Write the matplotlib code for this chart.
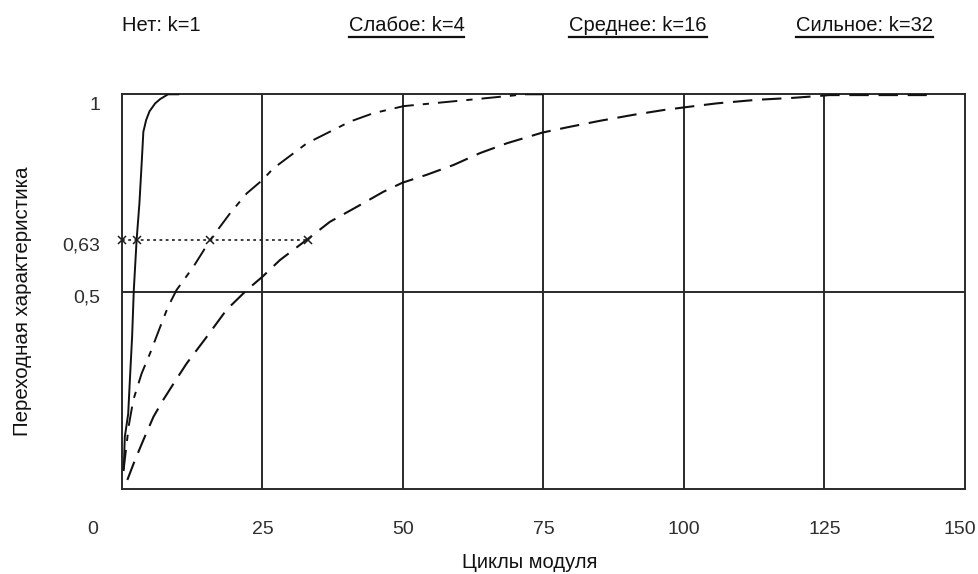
import matplotlib
matplotlib.use("Agg")
import matplotlib.pyplot as plt
from matplotlib.transforms import ScaledTranslation
from matplotlib.lines import Line2D

plt.rcParams['font.family'] = ['Liberation Sans', 'DejaVu Sans']
plt.rcParams['lines.scale_dashes'] = False

# ---- data ----
legend_labels = ["Нет: k=1", "Слабое: k=4", "Среднее: k=16", "Сильное: k=32"]
legend_underlined = [False, True, True, True]

x_ticks = [0, 25, 50, 75, 100, 125, 150]
x_tick_labels = ["0", "25", "50", "75", "100", "125", "150"]
y_ticks = [1.0, 0.63, 0.5]
y_tick_labels = ["1", "0,63", "0,5"]
grid_x = [25, 50, 75, 100, 125]
grid_y = [0.5]

# k=4 (solid)
k4_x = [0.3, 0.5, 1.1, 1.4, 1.8, 2.1, 2.6, 3.1, 3.5, 3.8, 4.3, 4.9, 5.9, 6.8, 8.2, 10.0]
k4_y = [0.048, 0.132, 0.19, 0.276, 0.386, 0.504, 0.631, 0.724, 0.825, 0.905, 0.935, 0.957,
        0.977, 0.988, 1.0, 1.0]
# k=16 (dash-dot)
k16_x = [0.3, 1.2, 2.0, 3.5, 5.0, 6.8, 8.2, 9.7, 12.7, 15.7, 19.2, 22.2, 25.0, 26.9, 32.9,
         36.4, 40.6, 44.7, 50.1, 56.6, 62.5, 69.6, 71.4, 75.0]
k16_y = [0.05, 0.16, 0.225, 0.293, 0.344, 0.411, 0.462, 0.504, 0.563, 0.631, 0.698, 0.749,
         0.783, 0.812, 0.876, 0.901, 0.931, 0.952, 0.970, 0.979, 0.987, 0.997, 1.0, 1.0]
# k=32 (dashed)
k32_x = [0.95, 2.3, 3.8, 5.6, 7.3, 9.4, 11.5, 15.1, 18.6, 22.2, 25.0, 28.1, 33.2, 37.0, 41.8,
         46.5, 49.9, 54.2, 59.0, 63.7, 68.5, 74.8, 79.1, 85.1, 91.0, 96.3, 100.1, 105.8,
         112.9, 119.4, 124.2, 125.8, 143.2]
k32_y = [0.023, 0.073, 0.124, 0.183, 0.225, 0.272, 0.318, 0.386, 0.454, 0.504, 0.538, 0.580,
         0.635, 0.677, 0.715, 0.753, 0.776, 0.796, 0.821, 0.851, 0.876, 0.903, 0.916, 0.933,
         0.948, 0.960, 0.967, 0.977, 0.986, 0.991, 0.996, 0.998, 0.998]
# 0.63 level marks
mark_x = [0.0, 2.6, 15.7, 33.1]
mark_y = [0.63, 0.63, 0.63, 0.63]

W, H = 979, 574
fig = plt.figure(figsize=(W / 100, H / 100), dpi=100)
L, R, T, B = 122, 965, 94.3, 489
ax = fig.add_axes([L / W, (H - B) / H, (R - L) / W, (B - T) / H])
ax.set_xlim(0, 150)
ax.set_ylim(0, 1)

line_col = '#2a2a2a'
for s in ax.spines.values():
    s.set_color(line_col)
    s.set_linewidth(1.4)
for gx in grid_x:
    ax.axvline(gx, color=line_col, lw=1.4, zorder=1)
for gy in grid_y:
    ax.axhline(gy, color=line_col, lw=1.4, zorder=1)

ax.plot(k4_x, k4_y, color='#111111', lw=1.4, zorder=3)
ax.plot(k16_x, k16_y, color='#111111', lw=1.4, linestyle=(0, (14, 6.5, 4.5, 6.5)), zorder=3)
ax.plot(k32_x, k32_y, color='#111111', lw=1.5, linestyle=(0, (14, 7)), zorder=3)
ax.plot(mark_x, mark_y, color='#1e1e1e', lw=1.2, linestyle=(0, (2, 2.5)),
        marker='x', markersize=6, markeredgewidth=1.1, clip_on=False, zorder=4)

# ticks
ax.set_xticks(x_ticks)
ax.set_xticklabels(x_tick_labels)
ax.set_yticks(y_ticks)
ax.set_yticklabels(y_tick_labels)
ax.tick_params(axis='both', length=0, labelsize=14, labelcolor='#2e2e2e')
ax.tick_params(axis='x', pad=29.5)
ax.tick_params(axis='y', pad=15.8)
for lab in ax.get_xticklabels():
    lab.set_va('center')
x_shift = {"0": -29, "150": -5}
for lab in ax.get_xticklabels():
    dx = x_shift.get(lab.get_text(), 0)
    lab.set_transform(lab.get_transform() + ScaledTranslation(dx / 100, 0, fig.dpi_scale_trans))
y_shift = {"1": 8.7, "0,63": 4, "0,5": 4}
for lab in ax.get_yticklabels():
    dy = y_shift.get(lab.get_text(), 0)
    lab.set_transform(lab.get_transform() + ScaledTranslation(0, -dy / 100, fig.dpi_scale_trans))

fig.text(23 / W, 1 - 301 / H, "Переходная характеристика", rotation=90,
         ha='center', va='center', fontsize=14.8, color='#111111')
fig.text(530 / W, 1 - 562 / H, "Циклы модуля", ha='center', va='center',
         fontsize=14.5, color='#111111')

# top labels
centers = [161, 406.5, 638, 865]
texts = []
for c, lab in zip(centers, legend_labels):
    texts.append(fig.text(c / W, 1 - 31 / H, lab, ha='center', va='baseline',
                          fontsize=14.5, color='#111111'))
fig.canvas.draw()
rend = fig.canvas.get_renderer()
for t, ul in zip(texts, legend_underlined):
    if ul:
        bb = t.get_window_extent(rend)
        fig.add_artist(Line2D([bb.x0 / W, bb.x1 / W], [1 - 36.5 / H, 1 - 36.5 / H],
                              transform=fig.transFigure, color='#111111', lw=1.6))

fig.savefig("out.png", dpi=100)
